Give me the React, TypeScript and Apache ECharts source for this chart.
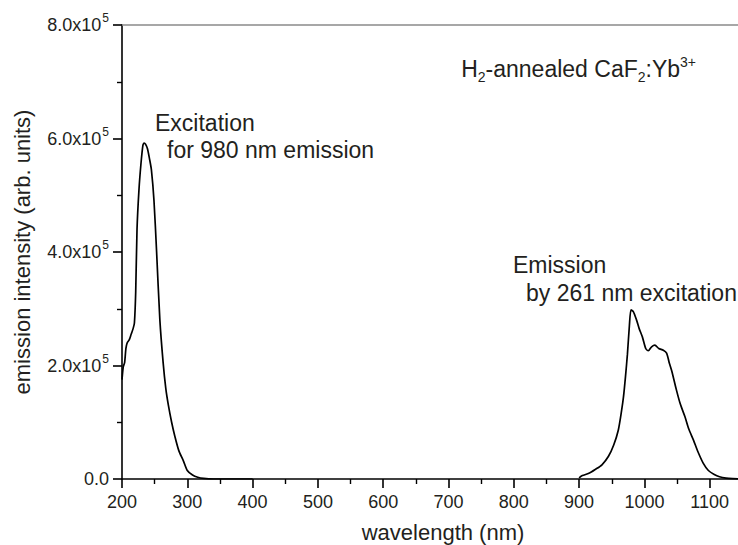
import React, { useEffect, useRef } from "react";
import * as echarts from "echarts";

const excitationWavelength = [200, 202, 204, 206, 208, 211, 214, 217, 219, 221, 223, 226, 229, 232, 234, 236, 239, 242, 245, 249, 253, 258, 263, 267, 271, 276, 281, 287, 294, 300, 308, 316, 325, 340, 400];
const excitationIntensity = [1.75, 1.98, 2.05, 2.3, 2.4, 2.45, 2.55, 2.65, 2.75, 3.3, 4.4, 5.1, 5.55, 5.88, 5.92, 5.9, 5.82, 5.65, 5.45, 4.9, 4.0, 2.8, 2.05, 1.6, 1.3, 1.0, 0.75, 0.5, 0.32, 0.15, 0.07, 0.03, 0.01, 0.0, 0.0];

const emissionWavelength = [900, 905, 915, 925, 935, 945, 953, 960, 965, 968, 971, 974, 977, 979.5, 983, 988, 992, 997, 1002, 1006, 1011, 1016, 1022, 1029, 1034, 1038, 1042, 1049, 1055, 1062, 1068, 1075, 1082, 1090, 1098, 1107, 1115, 1125, 1135, 1150];
const emissionIntensity = [0.02, 0.06, 0.1, 0.17, 0.25, 0.4, 0.6, 0.86, 1.2, 1.45, 1.8, 2.2, 2.7, 2.98, 2.95, 2.8, 2.65, 2.5, 2.3, 2.26, 2.33, 2.36, 2.3, 2.27, 2.22, 2.05, 1.9, 1.57, 1.32, 1.1, 0.88, 0.69, 0.48, 0.28, 0.15, 0.08, 0.04, 0.015, 0.005, 0.0];

const intensityScale = 1e5;
const yTickValues = [0, 2e5, 4e5, 6e5, 8e5];
const yTickLabels = ["0.0", "2.0x10", "4.0x10", "6.0x10", "8.0x10"];
const yTickExponent = "5";

const FONT = "'Liberation Sans', Arial, Helvetica, sans-serif";
const TEXT = "#231f20";

export default function App() {
  const ref = useRef<HTMLDivElement>(null);
  useEffect(() => {
    if (!ref.current) return;
    const chart = echarts.init(ref.current, undefined, { renderer: "svg" });
    const exc = excitationWavelength.map((w, i) => [w, excitationIntensity[i] * intensityScale]);
    const em = emissionWavelength.map((w, i) => [w, emissionIntensity[i] * intensityScale]);
    const annotStyle = { fill: TEXT, fontSize: 23, fontFamily: FONT };
    const nameStyle = { fill: TEXT, fontSize: 22, fontFamily: FONT };
    chart.setOption({
      animation: false,
      backgroundColor: "#ffffff",
      grid: { left: 122, top: 25, width: 653, height: 454, outerBoundsMode: "none", containLabel: false },
      xAxis: [
        {
          type: "value",
          min: 200,
          max: 1200,
          interval: 100,
          position: "bottom",
          axisLine: { show: true, lineStyle: { color: "#000", width: 1.6 } },
          axisTick: { show: true, length: 9, inside: false, lineStyle: { color: "#000", width: 1.6 } },
          minorTick: { show: true, splitNumber: 2, length: 5, lineStyle: { color: "#000", width: 1.4 } },
          splitLine: { show: false },
          axisLabel: {
            color: TEXT,
            fontSize: 18,
            fontFamily: FONT,
            margin: 14,
            showMaxLabel: false,
            formatter: (v: number) => (v > 1150 ? "" : String(v)),
          },
        },
        {
          type: "value",
          min: 200,
          max: 1200,
          position: "top",
          axisLine: { show: true, onZero: false, lineStyle: { color: "#8a8a8a", width: 1.6 } },
          axisTick: { show: false },
          axisLabel: { show: false },
          splitLine: { show: false },
        },
      ],
      yAxis: {
        type: "value",
        min: 0,
        max: 8e5,
        interval: 2e5,
        axisLine: { show: true, lineStyle: { color: "#000", width: 1.6 } },
        axisTick: { show: true, length: 9, lineStyle: { color: "#000", width: 1.6 } },
        minorTick: { show: true, splitNumber: 2, length: 5, lineStyle: { color: "#000", width: 1.4 } },
        splitLine: { show: false },
        axisLabel: {
          margin: 13,
          formatter: (v: number) => {
            const idx = yTickValues.indexOf(v);
            const lbl = idx >= 0 ? yTickLabels[idx] : "";
            if (v === 0) return `{b|${lbl}}`;
            return `{b|${lbl}}{s|${yTickExponent}}`;
          },
          rich: {
            b: { color: TEXT, fontSize: 18, fontFamily: FONT, verticalAlign: "middle" },
            s: { color: TEXT, fontSize: 12, fontFamily: FONT, verticalAlign: "top", padding: [0, 0, 14, 1] },
          },
        },
      },
      graphic: [
        {
          type: "text",
          x: 22,
          y: 252,
          rotation: Math.PI / 2,
          style: { text: "emission intensity (arb. units)", ...nameStyle, align: "center", verticalAlign: "middle" },
        },
        {
          type: "text",
          x: 443,
          y: 532,
          style: { text: "wavelength (nm)", ...nameStyle, align: "center", verticalAlign: "middle" },
        },
        { type: "text", x: 155, y: 123, style: { text: "Excitation", ...annotStyle, verticalAlign: "middle" } },
        { type: "text", x: 167, y: 150, style: { text: "for 980 nm emission", ...annotStyle, verticalAlign: "middle" } },
        { type: "text", x: 513, y: 265, style: { text: "Emission", ...annotStyle, verticalAlign: "middle" } },
        { type: "text", x: 526, y: 293, style: { text: "by 261 nm excitation", ...annotStyle, verticalAlign: "middle" } },
        {
          type: "text",
          x: 696,
          y: 69,
          style: {
            text: "{n|H}{d|2}{n|-annealed CaF}{d|2}{n|:Yb}{u|3+}",
            align: "right",
            verticalAlign: "middle",
            rich: {
              n: { fill: TEXT, fontSize: 23, fontFamily: FONT, verticalAlign: "middle" },
              d: { fill: TEXT, fontSize: 14, fontFamily: FONT, verticalAlign: "bottom", padding: [15, 0, 0, 0] },
              u: { fill: TEXT, fontSize: 14, fontFamily: FONT, verticalAlign: "top", padding: [0, 0, 15, 0] },
            },
          },
        },
      ],
      series: [
        {
          type: "line",
          data: exc,
          showSymbol: false,
          smooth: 0.25,
          lineStyle: { color: "#000", width: 1.7 },
          clip: true,
        },
        {
          type: "line",
          data: em,
          showSymbol: false,
          smooth: 0.25,
          lineStyle: { color: "#000", width: 1.7 },
          clip: true,
        },
      ],
    });
    return () => chart.dispose();
  }, []);
  return <div ref={ref} style={{ position: "fixed", left: 0, top: 0, width: 738, height: 545 }} />;
}
